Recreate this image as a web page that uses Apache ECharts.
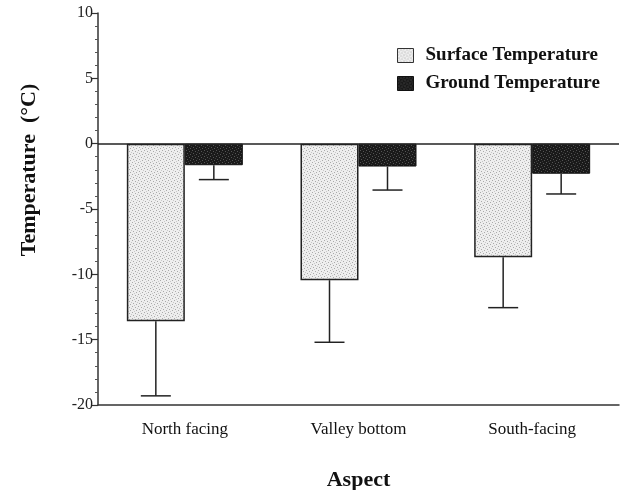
<!DOCTYPE html>
<html><head><meta charset="utf-8">
<script src="https://cdn.jsdelivr.net/npm/echarts@6/dist/echarts.min.js"></script>
<style>html,body{margin:0;padding:0;background:#fff}#c{width:629px;height:490px}</style>
</head><body><div id="c"></div>
<script>
var categories = ['North facing', 'Valley bottom', 'South-facing'];
var surfaceMean = [-13.6, -10.45, -8.7];
var surfaceErr = [5.7, 4.75, 3.85];
var groundMean = [-1.65, -1.75, -2.3];
var groundErr = [1.1, 1.8, 1.55];
var yTicks = {min: -20, max: 10, step: 5};

function makePattern(bg, dot, dot2) {
  var c = document.createElement('canvas');
  c.width = 6; c.height = 6;
  var g = c.getContext('2d');
  g.fillStyle = bg; g.fillRect(0, 0, 6, 6);
  g.fillStyle = dot;
  g.fillRect(0, 0, 1, 1); g.fillRect(3, 1, 1, 1); g.fillRect(1, 3, 1, 1); g.fillRect(4, 4, 1, 1);
  g.fillStyle = dot2;
  g.fillRect(2, 5, 1, 1); g.fillRect(5, 2, 1, 1);
  return c;
}
var surfFill = {image: makePattern('#eeeeee', '#aaaaaa', '#c8c8c8'), repeat: 'repeat'};
var groundFill = {image: makePattern('#1a1a1a', '#555555', '#3a3a3a'), repeat: 'repeat'};

var BW = 58;
function errSeries(name, means, errs, offset) {
  return {
    type: 'custom', name: name + ' err', silent: true, z: 5,
    data: means.map(function (m, i) { return [i, m, m - errs[i]]; }),
    renderItem: function (params, api) {
      var top = api.coord([api.value(0), api.value(1)]);
      var bot = api.coord([api.value(0), api.value(2)]);
      var x = top[0] + offset;
      var st = {stroke: '#222', lineWidth: 1.5};
      return {type: 'group', children: [
        {type: 'line', shape: {x1: x, y1: top[1], x2: x, y2: bot[1]}, style: st},
        {type: 'line', shape: {x1: x - 15, y1: bot[1], x2: x + 15, y2: bot[1]}, style: st}
      ]};
    }
  };
}

var chart = echarts.init(document.getElementById('c'));
chart.setOption({
  animation: false,
  grid: {left: 98, right: 10, top: 13, bottom: 85, outerBoundsMode: 'none', containLabel: false},
  legend: {
    orient: 'vertical', left: 392, top: 41, itemWidth: 16, itemHeight: 14, itemGap: 9,
    icon: 'rect',
    textStyle: {fontFamily: 'Liberation Serif', fontWeight: 'bold', fontSize: 19, color: '#111', padding: [0, 0, 0, 7]},
    data: [
      {name: 'Surface Temperature', itemStyle: {color: surfFill, borderColor: '#333', borderWidth: 1}},
      {name: 'Ground Temperature', itemStyle: {color: groundFill, borderColor: '#111', borderWidth: 1}}
    ]
  },
  xAxis: {
    type: 'category', data: categories,
    axisLine: {onZero: false, lineStyle: {color: '#333', width: 1.5}},
    axisTick: {show: false},
    axisLabel: {fontFamily: 'Liberation Serif', fontSize: 17, color: '#111', margin: 16},
    name: 'Aspect', nameLocation: 'middle', nameGap: 64,
    nameTextStyle: {fontFamily: 'Liberation Serif', fontWeight: 'bold', fontSize: 22, color: '#111'}
  },
  yAxis: {
    type: 'value', min: yTicks.min, max: yTicks.max, interval: yTicks.step,
    axisLine: {show: true, lineStyle: {color: '#333', width: 1.5}},
    axisTick: {show: true, length: 6, lineStyle: {color: '#333', width: 1.2}},
    minorTick: {show: true, splitNumber: 5, length: 3, lineStyle: {color: '#555', width: 1}},
    splitLine: {show: false},
    axisLabel: {fontFamily: 'Liberation Serif', fontSize: 16, color: '#222', margin: 5}
  },
  graphic: [{
    type: 'text', rotation: Math.PI / 2, x: 29, y: 170,
    style: {text: 'Temperature  (°C)', fontFamily: 'Liberation Serif', fontWeight: 'bold', fontSize: 22,
      fill: '#111', align: 'center', verticalAlign: 'middle'}
  }],
  series: [
    {type: 'bar', name: 'Surface Temperature', data: surfaceMean, barWidth: BW, barGap: '0%',
      itemStyle: {color: surfFill, borderColor: '#222', borderWidth: 1.5},
      markLine: {silent: true, symbol: 'none', label: {show: false},
        lineStyle: {color: '#222', width: 1.5, type: 'solid'}, data: [{yAxis: 0}]}},
    {type: 'bar', name: 'Ground Temperature', data: groundMean, barWidth: BW,
      itemStyle: {color: groundFill, borderColor: '#111', borderWidth: 1}},
    errSeries('Surface Temperature', surfaceMean, surfaceErr, -BW / 2),
    errSeries('Ground Temperature', groundMean, groundErr, BW / 2)
  ]
});
</script></body></html>
